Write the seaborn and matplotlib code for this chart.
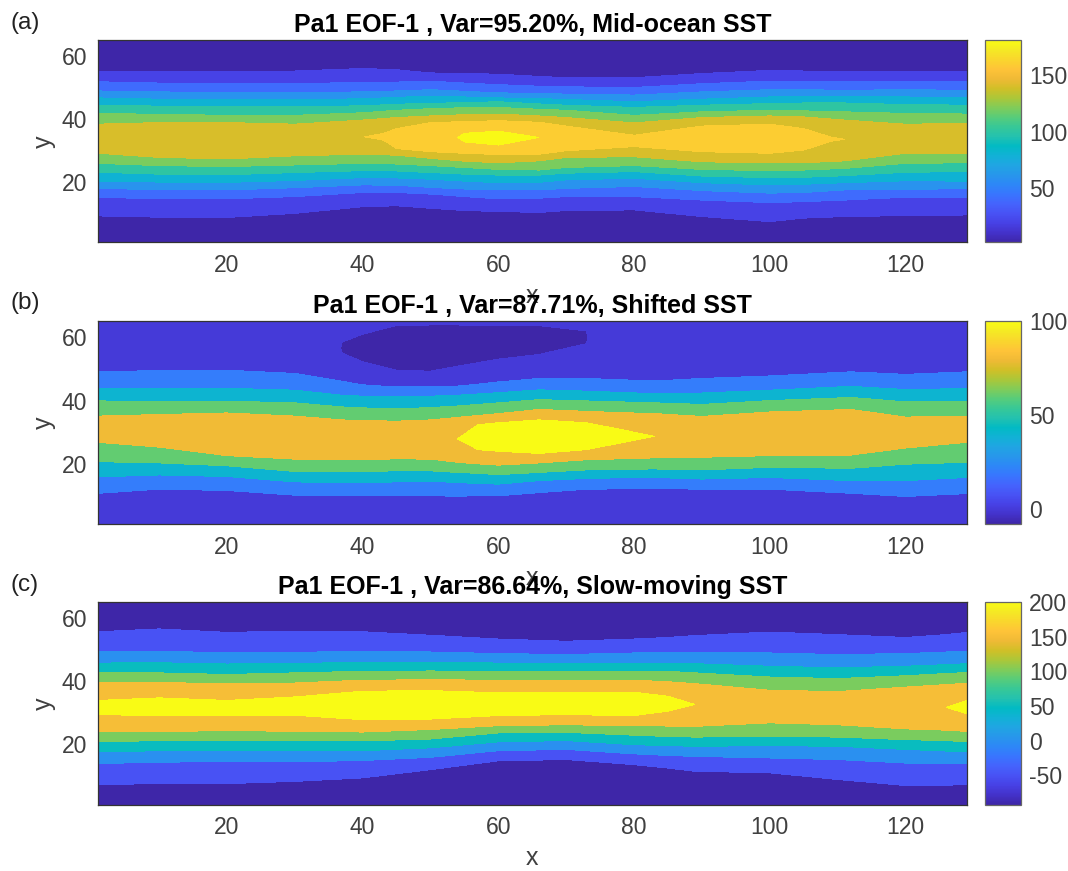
import numpy as np
import matplotlib
matplotlib.use("Agg")
import matplotlib.pyplot as plt
from matplotlib.cm import ScalarMappable
from matplotlib.colors import Normalize
import seaborn as sns

# parula samples, seaborn blends them into a colormap
parula_colors = [
    (0.2422, 0.1504, 0.6603), (0.2647, 0.1978, 0.7952), (0.2783, 0.2559, 0.8991),
    (0.2810, 0.3228, 0.9579), (0.2699, 0.3892, 0.9906), (0.2206, 0.4603, 0.9973),
    (0.1786, 0.5289, 0.9682), (0.1540, 0.5902, 0.9218), (0.1248, 0.6459, 0.8883),
    (0.0689, 0.6948, 0.8394), (0.0067, 0.7312, 0.7660), (0.1408, 0.7584, 0.6842),
    (0.2161, 0.7843, 0.5923), (0.3406, 0.8008, 0.4789), (0.5044, 0.7993, 0.3480),
    (0.6720, 0.7793, 0.2227), (0.8203, 0.7498, 0.1535), (0.9393, 0.7288, 0.2100),
    (0.9970, 0.7659, 0.2199), (0.9786, 0.8386, 0.1766), (0.9597, 0.9135, 0.1423),
    (0.9769, 0.9839, 0.0805),
]

# panel a: height of each contour at stations along x
a_x = [1, 10, 20, 30, 40, 45, 50, 55, 60, 66, 70, 80, 90, 100, 105, 111, 120, 129]
a_20lo = [9.4, 9.0, 8.9, 10.2, 12.3, 12.6, 11.8, 11.1, 10.8, 10.5, 11.1, 11.3, 9.2, 7.6, 8.7, 9.2, 9.5, 9.7]
a_40lo = [15.2, 14.9, 14.8, 15.5, 16.8, 16.8, 16.3, 15.5, 14.8, 15.0, 15.5, 15.5, 14.4, 13.6, 13.9, 14.4, 15.3, 15.3]
a_60lo = [18.1, 17.7, 17.6, 18.3, 19.2, 19.1, 18.4, 17.9, 17.6, 17.6, 18.1, 18.7, 17.4, 16.6, 16.8, 17.6, 17.8, 18.0]
a_80lo = [20.4, 20.1, 20.0, 20.6, 21.5, 21.4, 21.0, 20.4, 19.9, 20.0, 20.8, 21.3, 19.9, 19.2, 19.4, 19.9, 20.5, 20.4]
a_100lo = [23.2, 22.6, 22.4, 23.1, 23.7, 23.6, 23.1, 22.6, 22.3, 22.3, 22.9, 23.4, 22.0, 21.5, 21.6, 22.1, 23.2, 23.4]
a_120lo = [26.0, 25.3, 25.0, 25.5, 26.0, 25.8, 25.3, 24.7, 24.1, 23.9, 24.7, 25.3, 24.1, 23.7, 23.9, 24.4, 26.0, 26.2]
a_140lo = [29.2, 27.9, 27.4, 28.4, 28.9, 28.6, 27.6, 26.7, 26.2, 26.8, 27.9, 28.1, 26.5, 26.2, 26.2, 26.8, 29.2, 29.2]
a_c1lo = [32.3, 32.3, 32.0, 33.0, 32.9, 30.7, 29.7, 29.2, 28.8, 28.9, 30.0, 31.3, 29.7, 29.2, 30.2, 32.8, 32.3, 32.3]
a_c2lo = [33.0, 33.2, 33.0, 33.2, 33.6, 33.2, 33.0, 32.8, 31.8, 33.5, 32.8, 32.4, 32.0, 32.0, 32.5, 33.2, 33.0, 33.0]
a_ridge = [33.8, 34.0, 33.8, 34.0, 34.4, 34.4, 34.3, 34.2, 34.0, 34.2, 34.0, 33.1, 33.4, 33.7, 33.7, 33.6, 33.8, 33.8]
a_c2hi = [34.6, 34.8, 34.6, 34.8, 35.2, 35.6, 35.6, 35.5, 36.2, 34.9, 35.3, 33.8, 34.8, 35.4, 35.0, 34.0, 34.6, 34.6]
a_c1hi = [35.3, 35.5, 35.6, 35.0, 35.9, 37.0, 38.9, 39.2, 39.5, 39.0, 37.8, 34.9, 37.8, 38.4, 37.0, 34.4, 35.3, 35.3]
a_140hi = [38.4, 38.9, 38.9, 38.4, 39.7, 40.5, 41.0, 41.4, 41.6, 41.0, 40.5, 38.8, 40.5, 41.0, 40.7, 39.7, 38.4, 38.6]
a_120hi = [41.8, 41.5, 41.2, 41.2, 42.0, 42.8, 43.3, 43.6, 43.7, 43.1, 42.8, 41.2, 42.3, 42.8, 42.6, 42.3, 41.8, 41.6]
a_100hi = [44.4, 44.1, 43.9, 43.9, 44.2, 44.7, 45.0, 45.2, 45.5, 44.8, 44.4, 43.7, 44.4, 44.9, 45.1, 45.1, 44.6, 44.4]
a_80hi = [46.7, 46.3, 46.2, 46.2, 46.4, 46.9, 47.2, 47.0, 46.7, 46.5, 46.2, 45.5, 46.3, 47.0, 47.0, 47.0, 47.0, 46.8]
a_60hi = [48.9, 48.6, 48.4, 48.4, 48.6, 48.9, 49.3, 48.8, 48.3, 48.1, 47.9, 47.6, 48.6, 49.3, 49.3, 49.1, 49.3, 49.1]
a_40hi = [51.8, 51.4, 51.2, 51.2, 51.6, 51.7, 52.0, 51.4, 50.9, 50.4, 50.2, 50.0, 51.2, 52.0, 52.0, 51.8, 51.8, 51.8]
a_20hi = [55.2, 55.2, 55.1, 55.2, 56.0, 55.6, 54.6, 54.4, 54.2, 53.5, 53.1, 53.1, 54.4, 55.4, 55.2, 55.2, 54.9, 55.2]
a_c1z = [150, 150, 150, 150, 150, 160, 160, 160, 160, 160, 160, 160, 160, 160, 160, 156, 150, 150]
a_c2z = [152, 152, 152, 152, 152, 165, 170, 180, 180, 178, 170, 162, 165, 167, 164, 158, 152, 152]
a_peak = [155, 155, 155, 155, 159.5, 172, 176, 181, 183, 180, 174, 164, 170, 172, 168, 160, 155, 155]
a_levels = [2, 20, 40, 60, 80, 100, 120, 140, 160, 180, 190]

# panel b
b_x = [1, 10, 20, 30, 37, 40, 45, 50, 54, 57, 60, 66, 73, 78, 83, 90, 100, 112, 120, 129]
b_20lo = [10.7, 12.0, 11.6, 10.1, 10.1, 10.1, 10.1, 9.9, 9.8, 9.9, 9.9, 10.9, 12.0, 12.1, 12.2, 12.0, 12.0, 10.7, 9.7, 10.6]
b_40lo = [15.9, 16.5, 16.0, 14.3, 14.1, 14.1, 14.3, 14.5, 14.1, 13.8, 13.6, 14.7, 15.4, 15.6, 15.7, 15.2, 15.7, 14.7, 14.7, 15.7]
b_60lo = [20.7, 20.3, 19.4, 17.6, 17.6, 17.6, 17.8, 17.8, 17.3, 17.0, 16.6, 17.3, 18.1, 18.3, 18.4, 18.1, 18.9, 18.6, 19.9, 20.5]
b_80lo = [26.8, 25.3, 22.6, 21.5, 21.3, 21.3, 21.6, 21.5, 20.5, 20.0, 19.6, 20.3, 21.3, 21.6, 21.9, 22.1, 22.6, 22.8, 25.0, 26.8]
b_clo = [28, 27.3, 26.3, 25.7, 25.1, 24.7, 24.7, 24.9, 26.5, 24.5, 24.0, 23.3, 24.5, 26.6, 27.0, 26.2, 26.5, 27, 27.3, 28]
b_ridge = [31, 30.3, 29.3, 28.7, 28.1, 27.7, 27.7, 27.9, 27.9, 28.1, 28.4, 28.6, 28.7, 28.7, 28.7, 29.2, 29.5, 30, 30.3, 31]
b_chi = [34, 33.3, 32.3, 31.7, 31.1, 30.7, 30.7, 30.9, 29.3, 32.4, 33.0, 33.9, 33.0, 30.9, 30.4, 32.2, 32.5, 33, 33.3, 34]
b_80hi = [35.1, 35.6, 36.1, 35.1, 33.9, 33.7, 33.5, 33.9, 34.7, 35.3, 35.9, 37.2, 36.6, 36.2, 35.9, 35.0, 36.4, 37.2, 34.8, 35.0]
b_60hi = [39.9, 39.7, 39.8, 39.3, 38.0, 37.7, 37.4, 37.8, 38.3, 38.8, 39.3, 40.3, 39.9, 39.6, 39.3, 38.8, 40.0, 41.0, 39.6, 39.8]
b_40hi = [43.9, 43.8, 43.9, 43.3, 41.7, 41.4, 41.2, 41.4, 41.7, 42.1, 42.5, 43.4, 43.0, 42.6, 42.2, 42.4, 43.3, 44.5, 43.5, 43.8]
b_20hi = [49.1, 49.5, 49.6, 48.6, 46.1, 45.0, 44.3, 44.3, 44.6, 45.2, 45.9, 47.0, 47.0, 46.6, 46.2, 47.0, 47.8, 49.1, 48.3, 49.1]
b_dlo = [56, 56, 56, 56, 55.0, 52.3, 49.6, 49.3, 50.9, 52.0, 53.1, 54.6, 58.0, 56, 56, 56, 56, 56, 56, 56]
b_trough = [58, 58, 58, 58, 56.5, 57.5, 57, 57, 57.5, 58, 58.5, 59, 60, 58, 58, 58, 58, 58, 58, 58]
b_dhi = [60, 60, 60, 60, 58.5, 61, 63.7, 63.9, 63.9, 63.8, 63.7, 63.7, 62.0, 60, 60, 60, 60, 60, 60, 60]
b_cz = [85, 85, 85, 85, 85, 85, 85, 85, 92, 100, 100, 100, 100, 100, 92, 85, 85, 85, 85, 85]
b_peak = [90, 90, 90, 90, 90, 90, 90, 97, 100, 100.6, 100.6, 100.6, 100.6, 100.3, 100, 96, 90, 90, 90, 90]
b_dz = [8, 8, 8, 8, 0, 0, 0, 0, 0, 0, 0, 0, 0, 8, 8, 8, 8, 8, 8, 8]
b_tz = [5, 5, 5, 5, -0.2, -6, -6, -6, -6, -6, -6, -6, -0.2, 5, 5, 5, 5, 5, 5, 5]
b_levels = [-8, 0, 20, 40, 60, 80, 100, 102]

# panel c
c_x = [1, 10, 20, 30, 40, 50, 60, 70, 80, 85, 89, 100, 110, 120, 126, 129]
c_m50lo = [7.3, 7.6, 7.6, 8.3, 9.4, 12.0, 14.8, 15.2, 13.6, 12.5, 11.5, 11.0, 8.9, 7.0, 7.1, 7.3]
c_0lo = [13.9, 14.4, 14.5, 14.5, 14.9, 15.9, 18.0, 18.4, 17.0, 16.5, 16.2, 15.7, 15.2, 14.1, 14.0, 13.9]
c_50lo = [17.6, 18.0, 18.2, 18.0, 18.0, 18.9, 20.8, 21.2, 19.9, 19.6, 19.4, 19.6, 19.4, 18.4, 17.9, 17.6]
c_100lo = [20.8, 21.2, 21.3, 21.1, 21.1, 21.7, 23.6, 23.8, 22.9, 22.5, 22.3, 22.6, 22.3, 21.5, 21.2, 20.8]
c_150lo = [24.1, 24.0, 24.4, 24.1, 23.9, 24.7, 25.9, 26.2, 25.9, 25.8, 25.7, 26.8, 26.2, 24.9, 24.5, 24.1]
c_clo = [29.4, 29.1, 29.2, 29.2, 27.8, 28.0, 29.1, 29.4, 29.1, 30.5, 31.5, 29.6, 28.4, 29.0, 30.7, 29.7]
c_ridge = [32, 32.3, 32, 32.4, 33.1, 33.2, 33.2, 33.5, 33.2, 32.7, 32.6, 32.6, 31.4, 32.0, 31.7, 31.7]
c_chi = [33.9, 34.7, 33.9, 35.0, 36.8, 37.0, 36.3, 36.5, 36.5, 35.2, 33.7, 35.6, 34.4, 35.0, 32.7, 33.8]
c_150hi = [39.4, 39.6, 39.1, 39.4, 40.3, 40.4, 40.3, 40.3, 40.3, 39.8, 39.2, 37.1, 36.7, 38.1, 38.9, 39.3]
c_100hi = [42.6, 42.6, 42.1, 42.6, 43.1, 43.2, 43.1, 42.9, 43.1, 43.1, 42.6, 41.3, 40.8, 41.7, 42.4, 42.7]
c_50hi = [45.7, 45.8, 45.4, 45.6, 45.9, 46.0, 45.7, 45.7, 45.7, 45.7, 45.5, 44.7, 44.2, 44.7, 45.2, 45.5]
c_0hi = [49.3, 49.5, 48.9, 49.1, 49.4, 49.2, 48.7, 48.4, 48.9, 49.1, 49.2, 48.9, 48.4, 48.7, 49.2, 49.3]
c_m50hi = [55.6, 56.5, 55.4, 55.8, 55.6, 54.5, 53.3, 52.6, 53.3, 53.8, 54.4, 55.5, 54.7, 53.8, 54.7, 55.4]
c_cz = [200, 200, 200, 200, 200, 200, 200, 200, 200, 200, 190, 170, 165, 170, 195, 200]
c_peak = [200.5, 200.5, 200.5, 200.5, 200.5, 200.5, 200.5, 200.5, 200.5, 200.5, 200, 180, 175, 190, 200, 200.5]
c_levels = [-92, -50, 0, 50, 100, 150, 200, 205]

x_ticks = [20, 40, 60, 80, 100, 120]
y_ticks = [20, 40, 60]

titles = [
    "Pa1 EOF-1 , Var=95.20%, Mid-ocean SST",
    "Pa1 EOF-1 , Var=87.71%, Shifted SST",
    "Pa1 EOF-1 , Var=86.64%, Slow-moving SST",
]
letters = ["(a)", "(b)", "(c)"]
cbar_ticks = [[50, 100, 150], [0, 50, 100], [-50, 0, 50, 100, 150, 200]]
cbar_lims = [(2, 181), (-8, 100), (-92, 200)]

# contour table: each row is (heights, field value), scalar means same at every station
a_rows = [
    (1, 5), (a_20lo, 20), (a_40lo, 40), (a_60lo, 60), (a_80lo, 80), (a_100lo, 100), (a_120lo, 120), (a_140lo, 140),
    (a_c1lo, a_c1z), (a_c2lo, a_c2z), (a_ridge, a_peak), (a_c2hi, a_c2z), (a_c1hi, a_c1z),
    (a_140hi, 140), (a_120hi, 120), (a_100hi, 100), (a_80hi, 80), (a_60hi, 60), (a_40hi, 40), (a_20hi, 20), (65, 5),
]
b_rows = [
    (1, 5), (b_20lo, 20), (b_40lo, 40), (b_60lo, 60), (b_80lo, 80),
    (b_clo, b_cz), (b_ridge, b_peak), (b_chi, b_cz),
    (b_80hi, 80), (b_60hi, 60), (b_40hi, 40), (b_20hi, 20),
    (b_dlo, b_dz), (b_trough, b_tz), (b_dhi, b_dz), (65, 3),
]
c_rows = [
    (1, -80), (c_m50lo, -50), (c_0lo, 0), (c_50lo, 50), (c_100lo, 100), (c_150lo, 150),
    (c_clo, c_cz), (c_ridge, c_peak), (c_chi, c_cz),
    (c_150hi, 150), (c_100hi, 100), (c_50hi, 50), (c_0hi, 0), (c_m50hi, -50), (65, -80),
]


def build_grid(xs, rows):
    n = len(xs)
    Y = np.array([np.full(n, float(r[0])) if np.isscalar(r[0]) else np.array(r[0], float) for r in rows])
    Z = np.array([np.full(n, float(r[1])) if np.isscalar(r[1]) else np.array(r[1], float) for r in rows])
    X = np.tile(np.array(xs, float), (len(rows), 1))
    return X, Y, Z


sns.set_theme(style="ticks", font="Liberation Sans")
plt.rcParams["axes.unicode_minus"] = False
plt.rcParams["font.family"] = ["Liberation Sans", "DejaVu Sans"]

parula = sns.blend_palette(parula_colors, n_colors=256, as_cmap=True)

W, H = 1068, 871
fig = plt.figure(figsize=(W / 100, H / 100), dpi=100, facecolor="white")

tops = [40, 321.5, 602]
letter_y = [23, 303, 585]
grey = "#333333"

panels = [(a_x, a_rows, a_levels), (b_x, b_rows, b_levels), (c_x, c_rows, c_levels)]
for i, (xs, rows, levels) in enumerate(panels):
    ax = fig.add_axes([98 / W, 1 - (tops[i] + 202.5) / H, 868.5 / W, 202.5 / H])
    X, Y, Z = build_grid(xs, rows)
    norm = Normalize(*cbar_lims[i])
    band_colors = [parula(norm(v)) for v in levels[:-1]]
    ax.contourf(X, Y, Z, levels=levels, colors=band_colors)
    ax.set_xlim(1, 129)
    ax.set_ylim(1, 65)
    ax.set_xticks(x_ticks)
    ax.set_yticks(y_ticks)
    ax.tick_params(direction="in", length=6, width=0.8, top=True, right=True, color=grey,
                   labelsize=16.5, labelcolor="#404040", pad=8)
    ax.tick_params(axis="x", pad=8.5)
    for s in ax.spines.values():
        s.set_color(grey)
        s.set_linewidth(0.9)
    ax.set_xlabel("x", fontsize=18, color="#404040", labelpad=5)
    ax.set_ylabel("y", fontsize=18, color="#404040", labelpad=4)
    ax.set_title(titles[i], fontsize=18, fontweight="bold", color="black", pad=6)
    fig.text(10 / W, 1 - letter_y[i] / H, letters[i], fontsize=17.5, color="#222222", va="center", ha="left")

    cax = fig.add_axes([985 / W, 1 - (tops[i] + 202.5) / H, 36 / W, 202.5 / H])
    cb = fig.colorbar(ScalarMappable(norm=norm, cmap=parula), cax=cax)
    cb.set_ticks(cbar_ticks[i])
    cax.tick_params(direction="in", length=2.5, width=0.8, color=grey, labelsize=16.5, labelcolor="#404040", pad=6)
    cb.outline.set_edgecolor("#666666")
    cb.outline.set_linewidth(0.9)

fig.savefig("out.png", dpi=100)
